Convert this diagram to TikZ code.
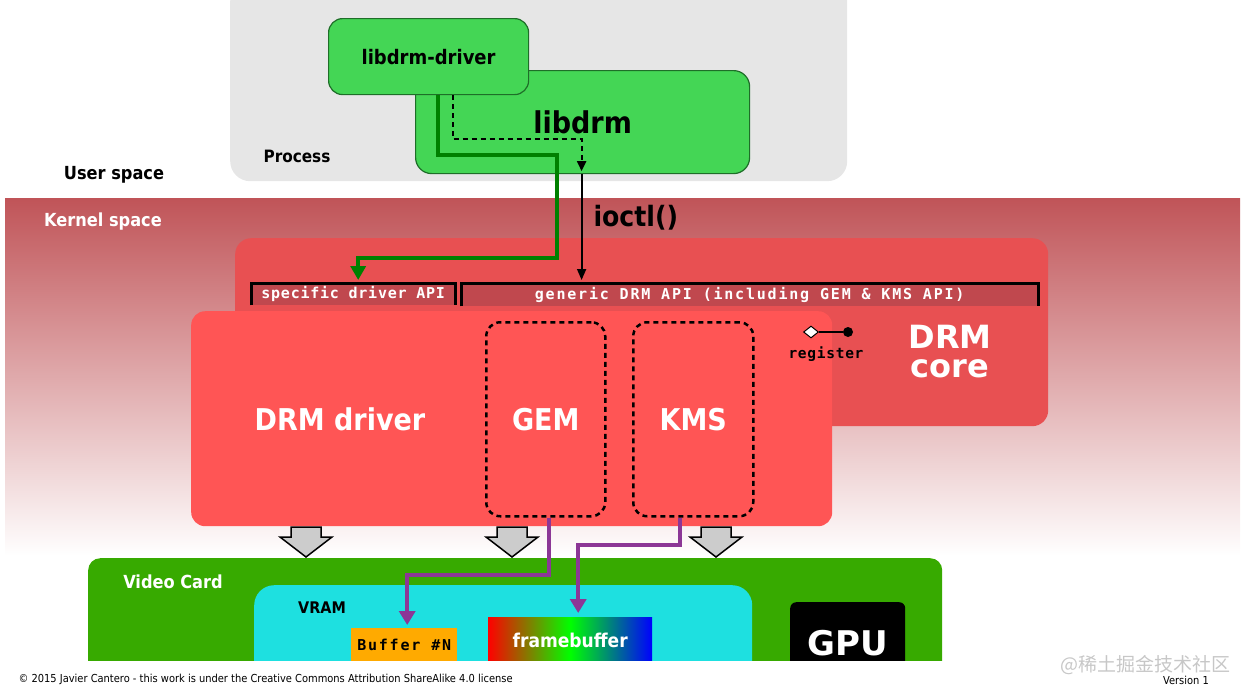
\documentclass[tikz,border=0pt]{standalone}
\usepackage{fontspec}
\setmainfont{DejaVu Sans Condensed}
\setmonofont{DejaVu Sans Mono}
\newfontfamily\widefont{DejaVu Sans}
\newfontfamily\apifont{DejaVu Sans Mono}[LetterSpace=5]
\newfontfamily\apiwidefont{DejaVu Sans Mono}[LetterSpace=12]
\newfontfamily\cjkfont{Noto Sans CJK SC}
\usepackage{xcolor}
\usetikzlibrary{arrows.meta,shapes.geometric,positioning,calc}

\definecolor{procgray}{RGB}{230,230,230}
\definecolor{libgreen}{RGB}{68,214,85}
\definecolor{libedge}{RGB}{30,110,40}
\definecolor{kerneltop}{RGB}{192,84,88}
\definecolor{corered}{RGB}{232,80,82}
\definecolor{driverred}{RGB}{255,85,85}
\definecolor{apired}{RGB}{192,72,78}
\definecolor{cardgreen}{RGB}{55,170,0}
\definecolor{vramcyan}{RGB}{30,224,224}
\definecolor{bufforange}{RGB}{255,170,0}
\definecolor{wirepurple}{RGB}{140,55,150}
\definecolor{wiregreen}{RGB}{0,128,0}
\definecolor{arrowgray}{RGB}{204,204,204}

\tikzset{
box/.style={rounded corners=14pt, inner sep=0pt, anchor=north west}, % boxes are placed by their top left corner
libbox/.style={box, fill=libgreen, draw=libedge, line width=1.2pt},
api/.style={anchor=north west, inner sep=0pt, fill=apired, text=white},
bracket/.style={line width=3pt, black},
part/.style={box, draw, line width=2.5pt, dash pattern=on 5pt off 4pt, text=white,
  font=\bfseries\fontsize{30}{32}\selectfont},
greenwire/.style={wiregreen, line width=4pt, -{Triangle[width=15pt,length=14pt]}},
dashwire/.style={black, line width=2.2pt, dash pattern=on 5pt off 4pt, -{Triangle[width=9pt,length=10pt]}},
callwire/.style={black, line width=1.8pt, -{Triangle[width=9pt,length=11pt]}},
purplewire/.style={wirepurple, line width=4pt, -{Triangle[width=16pt,length=14pt]}},
blockarrow/.style={fill=arrowgray, draw=black, line width=1.5pt}
}

\begin{document}
\begin{tikzpicture}[x=1pt, y=-1pt]
    \useasboundingbox (0,0) rectangle (1246,696);
    \clip (0,0) rectangle (1246,696);
    % user space
    \node[box, fill=procgray, rounded corners=20pt, minimum width=617pt, minimum height=200pt] (process) at (230,-19) {};
    \node[font=\bfseries\fontsize{17}{20}\selectfont] (proclabel) at (297,156) {Process};
    \node[font=\bfseries\fontsize{18}{20}\selectfont] (userlabel) at (114,175) {User space};
    \node[libbox, rounded corners=16pt, minimum width=334pt, minimum height=103pt,
      font=\bfseries\fontsize{30}{32}\selectfont] (libdrm) at (415,70) {libdrm};
    \node[libbox, minimum width=200pt, minimum height=76pt,
      font=\bfseries\fontsize{20}{22}\selectfont] (driverlib) at (328,18) {libdrm-driver};
    % kernel space
    \shade[top color=kerneltop, bottom color=white] (5,198) rectangle (1240,556);
    \node[white, font=\bfseries\fontsize{18}{20}\selectfont] (kernellabel) at (103,222) {Kernel space};
    \node[box, fill=corered, rounded corners=16pt, minimum width=813pt, minimum height=188pt] (core) at (235,238) {};
    \node[white, align=center, font=\widefont\bfseries\fontsize{32}{29}\selectfont] (corelabel) at (950,352) {DRM\\core};
    \node[api, minimum width=204pt, minimum height=22pt, font=\apifont\bfseries\fontsize{15}{16}\selectfont]
      (specapi) at (251,283) {specific driver API};
    \node[api, minimum width=577pt, minimum height=23pt, font=\apiwidefont\bfseries\fontsize{15}{16}\selectfont]
      (genapi) at (461,283) {generic DRM API (including GEM \& KMS API)};
    \draw[bracket] (specapi.south west) -- (specapi.north west) -- (specapi.north east) -- (specapi.south east);
    \draw[bracket] (genapi.south west) -- (genapi.north west) -- (genapi.north east) -- (genapi.south east);
    \node[box, fill=driverred, minimum width=641pt, minimum height=215pt] (driver) at (191,311) {};
    \node[white, font=\bfseries\fontsize{30}{32}\selectfont] (driverlabel) at (340,419) {DRM driver};
    \node[part, minimum width=119pt, minimum height=194pt] (gem) at (485,321) {GEM};
    \node[part, minimum width=120pt, minimum height=194pt] (kms) at (632,321) {KMS};
    \node[diamond, draw, fill=white, line width=1pt, inner sep=0pt, minimum width=15pt, minimum height=12pt] (regdiamond) at (811,332) {};
    \node[circle, fill=black, inner sep=0pt, minimum size=10pt] (regdot) at (848,332) {};
    \draw[line width=2.5pt] (regdiamond) -- (regdot);
    \node[font=\apifont\bfseries\fontsize{14.5}{15}\selectfont] (reglabel) at (826,354) {register};
    \foreach \x in {306,512,716}
        \draw[blockarrow] (\x-15,527) -- (\x+15,527) -- (\x+15,537) -- (\x+26,537) -- (\x,557)
            -- (\x-26,537) -- (\x-15,537) -- cycle;
    % video card
    \begin{scope}
    \clip (0,0) rectangle (1246,660);
    \node[box, fill=cardgreen, rounded corners=12pt, minimum width=854pt, minimum height=160pt] (card) at (88,558) {};
    \node[white, font=\bfseries\fontsize{18}{20}\selectfont] (cardlabel) at (173,582) {Video Card};
    \node[box, fill=vramcyan, rounded corners=20pt, minimum width=498pt, minimum height=140pt] (vram) at (254,585) {};
    \node[font=\bfseries\fontsize{16}{18}\selectfont] (vramlabel) at (322,608) {VRAM};
    \node[anchor=north west, inner sep=0pt, fill=bufforange, minimum width=106pt, minimum height=34pt,
      font=\apiwidefont\bfseries\fontsize{15}{16}\selectfont] (buffer) at (351,628) {Buffer \#N};
    \node[anchor=north west, inner sep=0pt, left color=red, right color=blue, middle color=green,
      minimum width=164pt, minimum height=46pt, text=white,
      font=\bfseries\fontsize{19}{20}\selectfont] (fb) at (488,617) {framebuffer};
    \node[box, fill=black, rounded corners=6pt, minimum width=115pt, minimum height=82pt, text=white,
      font=\widefont\bfseries\fontsize{34}{36}\selectfont] (gpu) at (790,602) {GPU};
    \end{scope}
    % connectors
    \draw[greenwire] ($(driverlib.south)+(9,0)$) |- (557,155) -- (557,258) -| ($(specapi.north)+(5,-3)$);
    \draw[dashwire] ($(driverlib.south)+(24,0)$) |- ($(libdrm.south)+(-1,-35)$) -- ($(libdrm.south)+(-1,-3)$);
    \coordinate (ioctlend) at ($(libdrm.south |- genapi.north)+(-1,-3)$);
    \draw[callwire] ($(libdrm.south)+(-1,0)$) -- (ioctlend);
    \node[anchor=west, font=\bfseries\fontsize{28}{30}\selectfont] (ioctllabel) at (590,218) {ioctl()};
    \draw[purplewire] ($(gem.south)+(3,0)$) |- ($(buffer.north)+(3,-53)$) -- ($(buffer.north)+(3,-3)$);
    \draw[purplewire] ($(kms.south)+(-13,0)$) |- ($(fb.north)+(8,-72)$) -- ($(fb.north)+(8,-4)$);
    % footer
    \node[anchor=west, font=\fontsize{11}{12}\selectfont] (credit) at (15,679)
        {© 2015 Javier Cantero - this work is under the Creative Commons Attribution ShareAlike 4.0 license};
    \node[font=\fontsize{11}{12}\selectfont] (version) at (1186,680) {Version 1};
    \node[text=black!22, font=\cjkfont\fontsize{19}{20}\selectfont] (watermark) at (1145,665) {@稀土掘金技术社区};
\end{tikzpicture}
\end{document}
